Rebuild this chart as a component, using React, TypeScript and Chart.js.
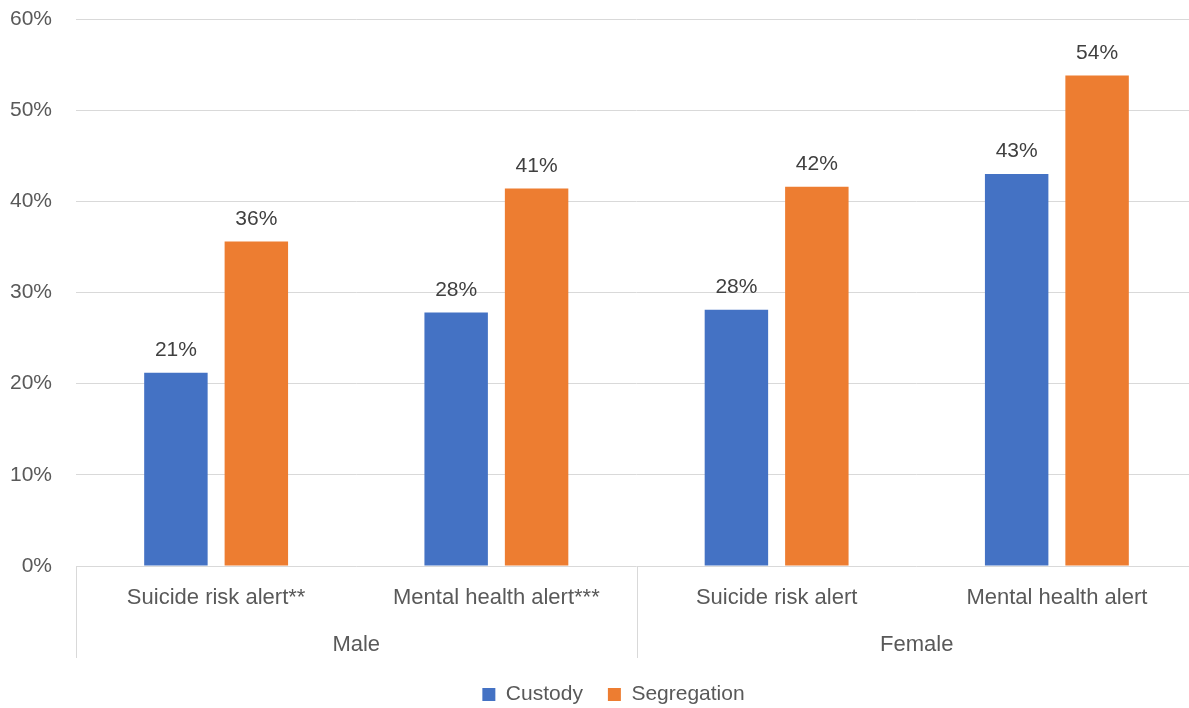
import React, { useEffect, useRef } from "react";
import { Chart, registerables } from "chart.js";

Chart.register(...registerables);

const categories = ["Suicide risk alert**", "Mental health alert***", "Suicide risk alert", "Mental health alert"];
const groups = ["Male", "Female"];
const groupSpans = [2, 2];
const custody = [21.2, 27.8, 28.1, 43.0];
const segregation = [35.6, 41.4, 41.6, 53.8];
const yMin = 0;
const yMax = 60;
const yStep = 10;

const FONT = '"Liberation Sans", Arial, sans-serif';

const dataLabelPlugin = {
  id: "dataLabels",
  afterDatasetsDraw(chart: any) {
    const ctx = chart.ctx;
    ctx.save();
    ctx.font = `21px ${FONT}`;
    ctx.fillStyle = "#404040";
    ctx.textAlign = "center";
    ctx.textBaseline = "alphabetic";
    chart.data.datasets.forEach((ds: any, i: number) => {
      const meta = chart.getDatasetMeta(i);
      meta.data.forEach((el: any, j: number) => {
        const v = ds.data[j] as number;
        ctx.fillText(Math.round(v) + "%", el.x, el.y - 16.5);
      });
    });
    ctx.restore();
  },
};

const groupAxisPlugin = {
  id: "groupAxis",
  afterDraw(chart: any) {
    const ctx = chart.ctx;
    const xs = chart.scales.x;
    const area = chart.chartArea;
    const cw = xs.getPixelForValue(1) - xs.getPixelForValue(0);
    const lineBottom = area.bottom + 92;
    ctx.save();
    ctx.strokeStyle = "#D9D9D9";
    ctx.lineWidth = 1;
    ctx.font = `22px ${FONT}`;
    ctx.fillStyle = "#595959";
    ctx.textAlign = "center";
    ctx.textBaseline = "alphabetic";
    let start = 0;
    const bounds: number[] = [];
    groups.forEach((g, gi) => {
      const span = groupSpans[gi];
      const left = xs.getPixelForValue(start) - cw / 2;
      const right = xs.getPixelForValue(start + span - 1) + cw / 2;
      if (gi === 0) bounds.push(left);
      bounds.push(right);
      ctx.fillText(g, (left + right) / 2, area.bottom + 85);
      start += span;
    });
    bounds.forEach((b) => {
      const x = Math.round(b) + 0.5;
      ctx.beginPath();
      ctx.moveTo(x, area.bottom);
      ctx.lineTo(x, lineBottom);
      ctx.stroke();
    });
    ctx.restore();
  },
};

export default function App() {
  const ref = useRef<HTMLCanvasElement | null>(null);

  useEffect(() => {
    if (!ref.current) return;
    Chart.defaults.font.family = FONT;
    const chart = new Chart(ref.current, {
      type: "bar",
      data: {
        labels: categories,
        datasets: [
          {
            label: "Custody",
            data: custody,
            backgroundColor: "#4472C4",
            categoryPercentage: 0.574,
            barPercentage: 0.789,
          },
          {
            label: "Segregation",
            data: segregation,
            backgroundColor: "#ED7D31",
            categoryPercentage: 0.574,
            barPercentage: 0.789,
          },
        ],
      },
      options: {
        responsive: false,
        animation: false,
        devicePixelRatio: 1,
        layout: { padding: { left: 6, right: 0, top: 19, bottom: 0 } },
        scales: {
          y: {
            min: yMin,
            max: yMax,
            ticks: {
              stepSize: yStep,
              padding: 24,
              color: "#595959",
              font: { size: 21, family: FONT },
              callback: (v: any) => v + "%",
            },
            grid: { color: "#D9D9D9", drawTicks: false, lineWidth: 1 },
            border: { display: false },
            afterFit: (s: any) => {
              s.width = 70;
              s.paddingTop = 12;
              s.paddingBottom = 12;
            },
          },
          y2: {
            position: "right",
            display: true,
            grid: { display: false, drawTicks: false },
            border: { display: false },
            ticks: { display: false },
            afterFit: (s: any) => {
              s.width = 24;
              s.paddingTop = 0;
              s.paddingBottom = 0;
            },
          },
          x: {
            grid: { display: false, drawTicks: false },
            border: { display: false },
            ticks: {
              padding: 19,
              color: "#595959",
              font: { size: 22, family: FONT },
              maxRotation: 0,
              autoSkip: false,
            },
            afterFit: (s: any) => {
              s.height = 93;
            },
          },
        },
        plugins: {
          legend: {
            position: "bottom",
            maxHeight: 49,
            labels: {
              boxWidth: 13,
              boxHeight: 13,
              padding: 25,
              color: "#595959",
              font: { size: 21, family: FONT },
            },
          },
          tooltip: { enabled: false },
        },
      } as any,
      plugins: [dataLabelPlugin, groupAxisPlugin],
    });
    return () => chart.destroy();
  }, []);

  return (
    <div
      style={{
        position: "fixed",
        left: 0,
        top: 0,
        width: 1189,
        height: 708,
        overflow: "hidden",
        background: "#ffffff",
      }}
    >
      <canvas ref={ref} width={1221} height={708} style={{ display: "block" }} />
    </div>
  );
}
